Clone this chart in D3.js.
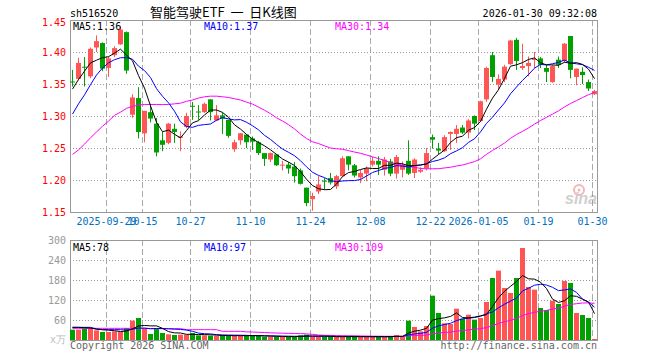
<!DOCTYPE html>
<html>
<head>
<meta charset="utf-8">
<script src="https://cdn.jsdelivr.net/npm/d3@7"></script>
<style>
  body { margin: 0; background: #fff; }
  text { font-family: 'DejaVu Sans Mono', monospace; font-size: 10px; }
</style>
</head>
<body>
<div id="root"></div>
<script>
'use strict';

const dates = [
  '2025-09-19','2025-09-22','2025-09-23','2025-09-24','2025-09-25','2025-09-26','2025-09-29','2025-09-30',
  '2025-10-09','2025-10-10','2025-10-13','2025-10-14','2025-10-15','2025-10-16','2025-10-17','2025-10-20',
  '2025-10-21','2025-10-22','2025-10-23','2025-10-24','2025-10-27','2025-10-28','2025-10-29','2025-10-30',
  '2025-10-31','2025-11-03','2025-11-04','2025-11-05','2025-11-06','2025-11-07','2025-11-10','2025-11-11',
  '2025-11-12','2025-11-13','2025-11-14','2025-11-17','2025-11-18','2025-11-19','2025-11-20','2025-11-21',
  '2025-11-24','2025-11-25','2025-11-26','2025-11-27','2025-11-28','2025-12-01','2025-12-02','2025-12-03',
  '2025-12-04','2025-12-05','2025-12-08','2025-12-09','2025-12-10','2025-12-11','2025-12-12','2025-12-15',
  '2025-12-16','2025-12-17','2025-12-18','2025-12-19','2025-12-22','2025-12-23','2025-12-24','2025-12-25',
  '2025-12-26','2025-12-29','2025-12-30','2025-12-31','2026-01-05','2026-01-06','2026-01-07','2026-01-08',
  '2026-01-09','2026-01-12','2026-01-13','2026-01-14','2026-01-15','2026-01-16','2026-01-19','2026-01-20',
  '2026-01-21','2026-01-22','2026-01-23','2026-01-26','2026-01-27','2026-01-28','2026-01-29','2026-01-30'
];

const open = [
  1.354,1.358,1.377,1.362,1.407,1.414,1.375,1.395,1.412,1.431,1.302,1.328,1.273,1.306,1.288,1.262,
  1.258,1.280,1.266,1.283,1.316,1.307,1.306,1.326,1.293,1.301,1.294,1.248,1.262,1.271,1.265,1.259,
  1.242,1.232,1.240,1.223,1.224,1.221,1.215,1.188,1.170,1.182,1.199,1.203,1.190,1.206,1.237,1.223,
  1.204,1.210,1.224,1.230,1.216,1.229,1.210,1.216,1.230,1.211,1.213,1.218,1.267,1.249,1.245,1.272,
  1.272,1.282,1.274,1.300,1.292,1.326,1.395,1.349,1.357,1.381,1.419,1.375,1.378,1.388,1.390,1.375,
  1.353,1.388,1.386,1.425,1.361,1.369,1.353,1.334
];
const high = [
  1.372,1.391,1.392,1.407,1.426,1.415,1.393,1.409,1.440,1.432,1.334,1.345,1.308,1.319,1.297,1.275,
  1.289,1.288,1.276,1.305,1.322,1.317,1.321,1.326,1.317,1.305,1.294,1.263,1.273,1.271,1.268,1.261,
  1.242,1.243,1.240,1.230,1.228,1.228,1.218,1.188,1.180,1.206,1.203,1.211,1.208,1.237,1.237,1.225,
  1.216,1.221,1.236,1.237,1.236,1.233,1.239,1.229,1.262,1.234,1.220,1.250,1.271,1.258,1.270,1.276,
  1.286,1.286,1.295,1.301,1.324,1.377,1.400,1.365,1.380,1.419,1.422,1.413,1.393,1.400,1.392,1.380,
  1.380,1.393,1.414,1.425,1.374,1.376,1.357,1.341
];
const low = [
  1.346,1.356,1.346,1.359,1.400,1.370,1.361,1.392,1.411,1.366,1.297,1.265,1.259,1.290,1.237,1.245,
  1.256,1.258,1.245,1.281,1.294,1.294,1.305,1.293,1.292,1.272,1.266,1.244,1.255,1.250,1.247,1.239,
  1.222,1.228,1.222,1.215,1.210,1.196,1.193,1.159,1.152,1.178,1.185,1.193,1.186,1.205,1.215,1.204,
  1.195,1.198,1.221,1.208,1.207,1.206,1.202,1.204,1.208,1.203,1.211,1.215,1.249,1.240,1.244,1.247,
  1.258,1.272,1.265,1.278,1.291,1.322,1.353,1.341,1.353,1.380,1.372,1.372,1.362,1.375,1.375,1.353,
  1.352,1.375,1.383,1.359,1.348,1.350,1.339,1.333
];
const close = [
  1.354,1.383,1.377,1.405,1.417,1.374,1.390,1.406,1.435,1.371,1.329,1.275,1.308,1.296,1.243,1.255,
  1.288,1.275,1.268,1.300,1.315,1.306,1.319,1.306,1.301,1.296,1.269,1.259,1.273,1.259,1.260,1.242,
  1.233,1.242,1.223,1.224,1.218,1.206,1.194,1.164,1.175,1.193,1.198,1.196,1.206,1.234,1.224,1.207,
  1.211,1.218,1.230,1.224,1.232,1.210,1.236,1.224,1.210,1.232,1.216,1.242,1.263,1.246,1.267,1.275,
  1.280,1.274,1.293,1.288,1.323,1.375,1.361,1.358,1.377,1.418,1.386,1.378,1.383,1.389,1.380,1.369,
  1.378,1.380,1.413,1.372,1.374,1.364,1.343,1.339
];
// 成交量, 万手
const volume = [
  31,31,35,36,29,24,24,26,24,36,58,66,34,18,36,21,17,15,16,16,21,14,
  14,13,13,13,13,13,13,13,13,13,10,10,10,10,10,10,14,16,10,10,10,10,
  10,10,10,10,10,10,10,10,10,10,15,10,58,39,26,42,133,81,50,48,94,64,
  76,61,66,114,186,208,156,141,186,276,159,151,96,90,118,108,177,171,81,75,66,3
];

// moving averages before enough history is on screen
const ma5Head  = [1.342, 1.357, 1.370, 1.383];
const ma10Head = [1.303, 1.319, 1.333, 1.349, 1.364, 1.375, 1.383, 1.388, 1.391];
const ma30Head = [1.240, 1.247, 1.256, 1.266, 1.275, 1.284, 1.292, 1.301, 1.306, 1.312,
                  1.315, 1.317, 1.318, 1.318, 1.318, 1.318, 1.318, 1.319, 1.320, 1.323,
                  1.325, 1.328, 1.330, 1.331, 1.331, 1.330, 1.329, 1.327, 1.325];
const vma5Head  = [38, 38, 37, 36];
const vma10Head = [38, 38, 38, 38, 33, 31, 31, 31, 31];
const vma30Head = [35, 35, 35, 35, 35, 35, 35, 35, 35, 35, 35, 35, 35, 34, 34, 34, 34, 34, 34,
                   31, 31, 31, 31, 31, 31, 26, 26, 26, 26];

const priceTicks = [1.15, 1.20, 1.25, 1.30, 1.35, 1.40, 1.45];
const volTicks   = [60, 120, 180, 240, 300];
const dateTicks  = ['2025-09-29','2025-10-15','2025-10-27','2025-11-10','2025-11-24',
                    '2025-12-08','2025-12-22','2026-01-05','2026-01-19','2026-01-30'];
const dateLabels = ['2025-09-29','10-15','10-27','11-10','11-24',
                    '12-08','12-22','2026-01-05','01-19','01-30'];
const priceLegend = ['MA5:1.36', 'MA10:1.37', 'MA30:1.34'];
const volLegend   = ['MA5:78', 'MA10:97', 'MA30:109'];

const Root = document.querySelector('#root');

function movingAvg(values, n, head) {
  return values.map((v, i) => i < head.length ? head[i] : d3.mean(values.slice(i - n + 1, i + 1)));
}

function draw() {
  const w = 660,
        h = 360,
        left = 70,
        right = 597,
        pTop = 20,
        pBot = 212,
        vTop = 240,
        vBot = 340,
        UP = '#ff5555',
        DOWN = '#00a000',
        maColors = ['#000000', '#0000ff', '#ff00ff'],

        svg = d3.select(Root).append('svg')
                .attr('width', w)
                .attr('height', h),

        x = d3.scaleBand()
              .domain(dates)
              .range([left, right])
              .paddingInner(1 / 6)
              .paddingOuter(0),
        yP = d3.scaleLinear().domain([1.15, 1.45]).range([pBot, pTop]),
        yV = d3.scaleLinear().domain([0, 300]).range([vBot, vTop]),
        cx = (i) => x(dates[i]) + x.bandwidth() / 2;

  const idx = d3.range(dates.length),
        isUp = (i) => close[i] > open[i];

  // header
  svg.append('text').attr('x', left).attr('y', 17).text('sh516520');
  svg.append('text')
     .attr('x', 150).attr('y', 17)
     .style('font-family', "'Noto Sans CJK SC', sans-serif")
     .style('font-size', '13px')
     .style('white-space', 'pre')
     .text('智能驾驶ETF  一  日K线图');
  svg.append('text')
     .attr('x', right).attr('y', 17)
     .attr('text-anchor', 'end')
     .text('2026-01-30 09:32:08');

  // grids
  [[pTop, pBot], [vTop, vBot]].forEach(([t, b]) => {
    svg.append('g').selectAll('line')
       .data(dateTicks)
       .enter().append('line')
       .attr('x1', (d) => Math.round(x(d)) + 0.5)
       .attr('x2', (d) => Math.round(x(d)) + 0.5)
       .attr('y1', t).attr('y2', b)
       .attr('stroke', '#aaa')
       .attr('stroke-dasharray', '6,3');
  });

  svg.append('g').selectAll('line')
     .data(priceTicks.slice(1, -1))
     .enter().append('line')
     .attr('x1', left).attr('x2', right)
     .attr('y1', (d) => Math.round(yP(d)) + 0.5)
     .attr('y2', (d) => Math.round(yP(d)) + 0.5)
     .attr('stroke', '#999')
     .attr('stroke-dasharray', '1,2');

  svg.append('g').selectAll('line')
     .data(volTicks.slice(0, -1))
     .enter().append('line')
     .attr('x1', left).attr('x2', right)
     .attr('y1', (d) => Math.round(yV(d)) + 0.5)
     .attr('y2', (d) => Math.round(yV(d)) + 0.5)
     .attr('stroke', '#999')
     .attr('stroke-dasharray', '1,2');

  // frames
  svg.append('rect')
     .attr('x', left + 0.5).attr('y', pTop + 0.5)
     .attr('width', right - left).attr('height', pBot - pTop)
     .attr('fill', 'none').attr('stroke', '#999');
  svg.append('rect')
     .attr('x', left + 0.5).attr('y', vTop + 0.5)
     .attr('width', right - left).attr('height', vBot - vTop)
     .attr('fill', 'none').attr('stroke', '#999');

  // axis labels
  svg.append('g').selectAll('text')
     .data(priceTicks)
     .enter().append('text')
     .attr('x', 66)
     .attr('y', (d) => Math.max(yP(d), pTop + 2) + 4)
     .attr('text-anchor', 'end')
     .attr('fill', '#ff0000')
     .text((d) => d.toFixed(2));

  svg.append('g').selectAll('text')
     .data(volTicks)
     .enter().append('text')
     .attr('x', 66)
     .attr('y', (d) => yV(d) + 4)
     .attr('text-anchor', 'end')
     .attr('fill', '#999')
     .text((d) => d);
  svg.append('text')
     .attr('x', 66).attr('y', vBot + 3)
     .attr('text-anchor', 'end')
     .attr('fill', '#bbb')
     .text('x万');

  svg.append('g').selectAll('text')
     .data(dateTicks)
     .enter().append('text')
     .attr('x', (d) => x(d) + 0.5)
     .attr('y', 225)
     .attr('text-anchor', 'middle')
     .attr('fill', '#0070c0')
     .text((d, i) => dateLabels[i]);

  // watermark
  const wm = svg.append('g').attr('opacity', 0.35);
  wm.append('circle').attr('cx', 579).attr('cy', 190).attr('r', 5)
    .attr('fill', 'none').attr('stroke', '#e03030').attr('stroke-width', 2);
  wm.append('circle').attr('cx', 579).attr('cy', 190).attr('r', 1.5).attr('fill', '#e03030');
  wm.append('text')
    .attr('x', 565).attr('y', 204)
    .style('font-family', "'Liberation Sans', sans-serif")
    .style('font-size', '16px')
    .style('font-weight', 'bold')
    .style('font-style', 'italic')
    .attr('fill', '#777')
    .text('sina');

  // candles
  const candles = svg.append('g');
  candles.selectAll('line')
     .data(idx)
     .enter().append('line')
     .attr('x1', cx).attr('x2', cx)
     .attr('y1', (i) => yP(high[i]))
     .attr('y2', (i) => yP(low[i]))
     .attr('stroke', (i) => isUp(i) ? UP : DOWN);
  candles.selectAll('rect')
     .data(idx)
     .enter().append('rect')
     .attr('x', (i) => x(dates[i]))
     .attr('width', x.bandwidth())
     .attr('y', (i) => yP(Math.max(open[i], close[i])))
     .attr('height', (i) => Math.max(1, Math.abs(yP(open[i]) - yP(close[i]))))
     .attr('fill', (i) => isUp(i) ? UP : DOWN);

  // volume bars
  svg.append('g').selectAll('rect')
     .data(idx)
     .enter().append('rect')
     .attr('x', (i) => x(dates[i]))
     .attr('width', x.bandwidth())
     .attr('y', (i) => yV(volume[i]))
     .attr('height', (i) => vBot - yV(volume[i]))
     .attr('fill', (i) => isUp(i) ? UP : DOWN);

  // moving averages
  const priceMA = [movingAvg(close, 5, ma5Head), movingAvg(close, 10, ma10Head), movingAvg(close, 30, ma30Head)],
        volMA   = [movingAvg(volume, 5, vma5Head), movingAvg(volume, 10, vma10Head), movingAvg(volume, 30, vma30Head)];

  const lineP = d3.line().x((d, i) => cx(i)).y((d) => yP(d)),
        lineV = d3.line().x((d, i) => cx(i)).y((d) => yV(d));

  [2, 1, 0].forEach((k) => {
    svg.append('path').attr('d', lineP(priceMA[k]))
       .attr('fill', 'none').attr('stroke', maColors[k]).attr('stroke-width', 1);
    svg.append('path').attr('d', lineV(volMA[k]))
       .attr('fill', 'none').attr('stroke', maColors[k]).attr('stroke-width', 1);
  });

  // legends
  const legendX = [73, 204, 335];
  priceLegend.forEach((t, k) => {
    svg.append('text').attr('x', legendX[k]).attr('y', 30).attr('fill', maColors[k]).text(t);
  });
  volLegend.forEach((t, k) => {
    svg.append('text').attr('x', legendX[k]).attr('y', 251).attr('fill', maColors[k]).text(t);
  });

  // footer
  svg.append('text').attr('x', left).attr('y', 349).attr('fill', '#666').text('Copyright 2026 SINA.COM');
  svg.append('text').attr('x', right).attr('y', 349).attr('text-anchor', 'end')
     .attr('fill', '#666').text('http://finance.sina.com.cn');
}

draw();
</script>
</body>
</html>
